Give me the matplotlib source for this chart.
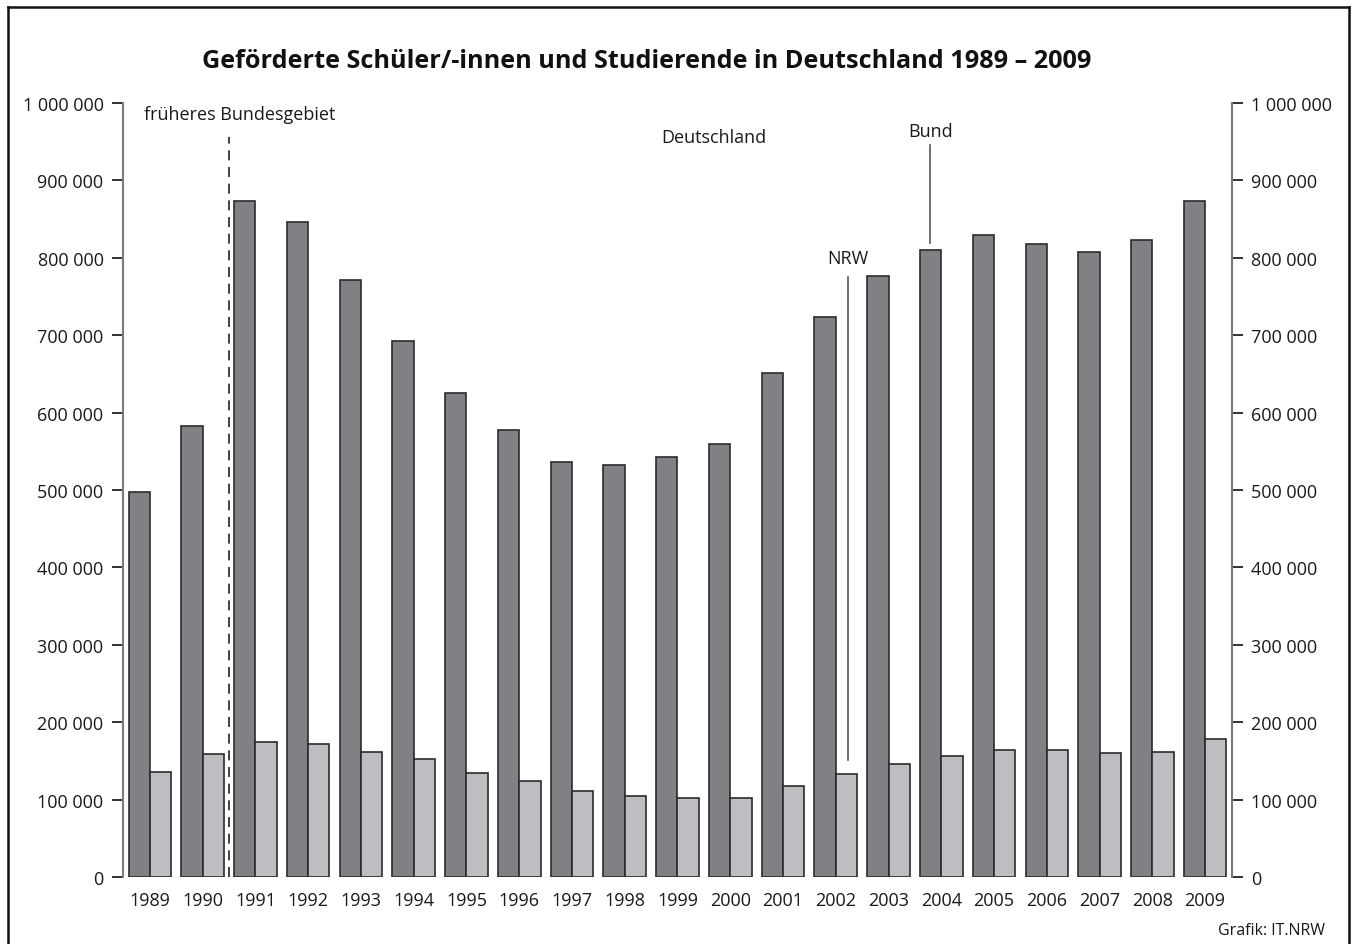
import matplotlib
matplotlib.use("Agg")
import matplotlib.pyplot as plt
from matplotlib.ticker import FuncFormatter, MultipleLocator
from matplotlib.lines import Line2D
import numpy as np

plt.rcParams['font.family'] = ['Open Sans', 'DejaVu Sans']

years = [str(y) for y in range(1989, 2010)]
# Bund (dark) and NRW (light), number of students supported
bund = [498000, 583000, 874000, 846000, 771000, 693000, 625000, 578000, 536000, 532000,
        542000, 560000, 651000, 723000, 777000, 810000, 829000, 818000, 807000, 823000, 873000]
nrw = [136000, 159000, 175000, 172000, 162000, 152000, 135000, 124000, 111000, 105000,
       102000, 102000, 118000, 133000, 146000, 156000, 164000, 164000, 160000, 162000, 178000]

dark = '#808085'
light = '#bdbec2'
edge = '#2b2b2b'

fig = plt.figure(figsize=(13.56, 9.45), dpi=100)
ax = fig.add_axes([123 / 1356, 67 / 945, 1109 / 1356, 774 / 945])

x = np.arange(len(years))
w = 0.404
ax.bar(x - w / 2, bund, w, color=dark, edgecolor=edge, linewidth=1.2)
ax.bar(x + w / 2, nrw, w, color=light, edgecolor=edge, linewidth=1.2)

ax.set_xlim(-0.51, 20.51)
ax.set_ylim(0, 1000000)
ax.yaxis.set_major_locator(MultipleLocator(100000))
ax.yaxis.set_major_formatter(FuncFormatter(lambda v, p: f"{int(v):,}".replace(",", " ")))
ax.yaxis.set_ticks_position('both')
ax.tick_params(axis='y', direction='out', length=8, width=1.3, color='#222222',
               labelsize=13, pad=6, labelright=True, labelcolor='#1a1a1a')
ax.set_xticks(x)
ax.set_xticklabels(years)
ax.tick_params(axis='x', length=0, labelsize=13, pad=10, labelcolor='#1a1a1a')

for s in ['top', 'bottom']:
    ax.spines[s].set_visible(False)
for s in ['left', 'right']:
    ax.spines[s].set_color('#7a7a7a')
    ax.spines[s].set_linewidth(1.5)

# annotations
ax.plot([1.5, 1.5], [0, 956000], ls=(0, (6, 4)), color='#222222', lw=1.2)
ax.text(1.7, 1000000 - 14000, 'früheres Bundesgebiet', ha='center', va='center',
        fontsize=13, color='#1a1a1a')
ax.text(10.69, 956000, 'Deutschland', ha='center', va='center', fontsize=13,
        color='#1a1a1a')
ax.text(13.23, 800000, 'NRW', ha='center', va='center', fontsize=13, color='#1a1a1a')
ax.plot([13.23, 13.23], [151000, 775000], color='#555555', lw=1.2)
ax.text(14.79, 964000, 'Bund', ha='center', va='center', fontsize=13, color='#1a1a1a')
ax.plot([14.79, 14.79], [819000, 946000], color='#555555', lw=1.2)

fig.text(647 / 1356, 1 - 62 / 945,
         'Geförderte Schüler/-innen und Studierende in Deutschland 1989 – 2009',
         ha='center', va='center', fontsize=18.2, fontweight='bold', color='#111111')
fig.text(1325 / 1356, 1 - 931 / 945, 'Grafik: IT.NRW', ha='right', va='center',
         fontsize=11.5, color='#1a1a1a')

# frame
for xs, ys in [([8, 8], [0, 937]), ([8, 1349], [937, 937]), ([1349, 1349], [937, 0])]:
    fig.add_artist(Line2D([v / 1356 for v in xs], [v / 945 for v in ys],
                          color='#111111', lw=1.8))

fig.savefig('out.png', dpi=100)
